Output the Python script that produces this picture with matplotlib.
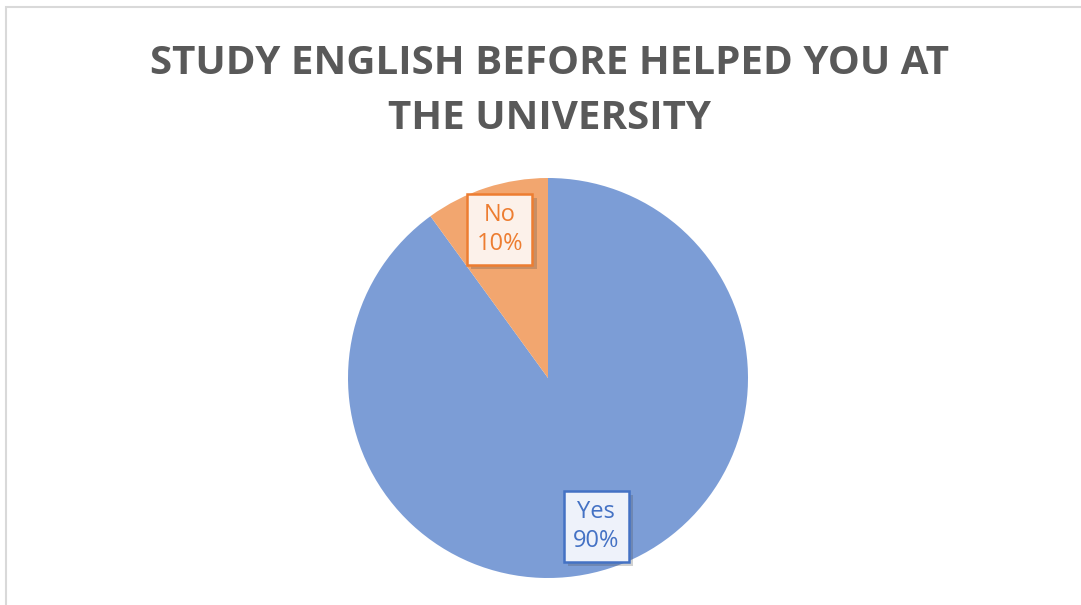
"""
Pie chart: did studying English before help at the university
"""

import matplotlib.pyplot as plt
import matplotlib.patheffects as pe
from matplotlib.patches import Rectangle

answers = ["Yes", "No"]
shares = [90, 10]

fill_colors = ["#7C9DD6", "#F2A66F"]
edge_colors = ["#4472C4", "#ED7D31"]
box_faces = ["#EEF2FA", "#FCF1EA"]

title = "STUDY ENGLISH BEFORE HELPED YOU AT\nTHE UNIVERSITY"

fig = plt.figure(figsize=(10.81, 6.05), dpi=100)

# chart area frame
fig.patches.append(
    Rectangle((6 / 1081, -0.1), 1.2, 1 - 7 / 605 + 0.1,
              transform=fig.transFigure, fill=False,
              edgecolor="#D9D9D9", linewidth=1.5)
)

fig.text(0.508, 0.850, title, ha="center", va="center",
         fontsize=29, fontweight="bold", color="#595959",
         family="Open Sans", linespacing=1.55)

# pie area: radius 200 px centred at (548, 378)
ax = fig.add_axes([348 / 1081, 27 / 605, 400 / 1081, 400 / 605])

labels = [f"{a}\n{s}%" for a, s in zip(answers, shares)]
wedges, texts = ax.pie(
    shares,
    labels=labels,
    colors=fill_colors,
    startangle=90,
    counterclock=False,
    radius=1,
    labeldistance=0.78,
    wedgeprops=dict(linewidth=0),
    textprops=dict(fontsize=17, family="Open Sans", ha="center",
                   va="center", linespacing=1.25),
)
ax.set_xlim(-1, 1)
ax.set_ylim(-1, 1)

for txt, ec, fc in zip(texts, edge_colors, box_faces):
    txt.set_color(ec)
    txt.set_horizontalalignment("center")
    txt.set_bbox(dict(boxstyle="square,pad=0.4", facecolor=fc,
                      edgecolor=ec, linewidth=1.8))
    txt.get_bbox_patch().set_path_effects(
        [pe.SimplePatchShadow(offset=(3, -3), alpha=0.25), pe.Normal()]
    )

fig.savefig("out.png", dpi=100)
